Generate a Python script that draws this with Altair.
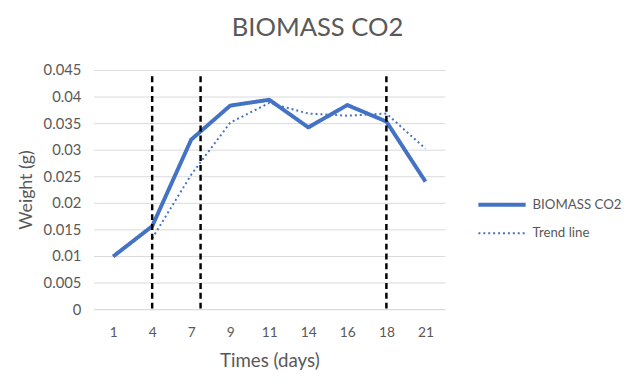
import altair as alt
import pandas as pd

days = ["1", "4", "7", "9", "11", "14", "16", "18", "21"]
biomass = [0.0099, 0.0156, 0.0319, 0.0383, 0.0394, 0.0342, 0.0384, 0.0353, 0.0240]
trend = [None, 0.0133, 0.0253, 0.0351, 0.0388, 0.0368, 0.0364, 0.0368, 0.0302]
rule_pos = [1, 2.24, 7]
rule_top = 0.0438
series_names = ["BIOMASS CO2", "Trend line"]
y_ticks = [0, 0.005, 0.01, 0.015, 0.02, 0.025, 0.03, 0.035, 0.04, 0.045]

rows = []
for i, v in enumerate(biomass):
    rows.append({"idx": i, "value": v, "series": series_names[0]})
for i, v in enumerate(trend):
    if v is not None:
        rows.append({"idx": i, "value": v, "series": series_names[1]})
df = pd.DataFrame(rows)
rules = pd.DataFrame({"pos": rule_pos, "top": [rule_top] * len(rule_pos), "bottom": [0] * len(rule_pos)})

label_expr = "[" + ",".join("'%s'" % d for d in days) + "][datum.value]"
FONT = "Lato"
GREY = "#595959"

xscale = alt.Scale(domain=[-0.5, len(days) - 0.5], nice=False, zero=False)
yscale = alt.Scale(domain=[0, 0.045], nice=False)

xaxis = alt.Axis(title="Times (days)", values=list(range(len(days))),
                 labelExpr=label_expr, grid=False, ticks=False, labelFontSize=14,
                 titleFontSize=19,
                 domainColor="#d9d9d9", labelPadding=17, titlePadding=12)
yaxis = alt.Axis(title="Weight (g)", values=y_ticks, labelOverlap=False,
                 format=".3~f", ticks=False, domain=False, grid=True,
                 gridColor="#d9d9d9", gridWidth=1, labelFontSize=15,
                 labelPadding=13, titlePadding=8)

leg = alt.Legend(title=None, orient="none", legendX=405, legendY=127,
                 symbolType="M-3,0H3", symbolSize=256, labelFontSize=13.5,
                 labelColor=GREY, labelFont=FONT, labelOffset=21, rowPadding=12)

lines = alt.Chart(df).mark_line(strokeCap="butt", strokeJoin="round").encode(
    x=alt.X("idx:Q", scale=xscale, axis=xaxis),
    y=alt.Y("value:Q", scale=yscale, axis=yaxis),
    color=alt.Color("series:N", scale=alt.Scale(domain=series_names, range=["#4472C4", "#4472C4"]), legend=leg),
    strokeDash=alt.StrokeDash("series:N", scale=alt.Scale(domain=series_names, range=[[1, 0], [2, 3]]), legend=leg),
    strokeWidth=alt.StrokeWidth("series:N", scale=alt.Scale(domain=series_names, range=[4, 2]), legend=leg),
)

vlines = alt.Chart(rules).mark_rule(color="black", strokeDash=[6, 4], strokeWidth=2.5).encode(
    x=alt.X("pos:Q", scale=xscale, axis=xaxis),
    y=alt.Y("top:Q", scale=yscale, axis=yaxis),
    y2="bottom:Q"
)

chart = alt.layer(lines, vlines).properties(
    width=357, height=243,
    title=alt.TitleParams("BIOMASS CO2", fontSize=26, font=FONT, color=GREY, fontWeight="normal",
                          offset=23, dx=49),
    padding={"left": 9, "top": 4, "right": 5, "bottom": 5},
).configure_axis(
    labelFont=FONT, titleFont=FONT, labelColor=GREY, titleColor=GREY,
    titleFontSize=18, titleFontWeight="normal",
).configure_view(stroke=None)

chart.save("out.html", embed_options={"renderer": "svg", "actions": False})
